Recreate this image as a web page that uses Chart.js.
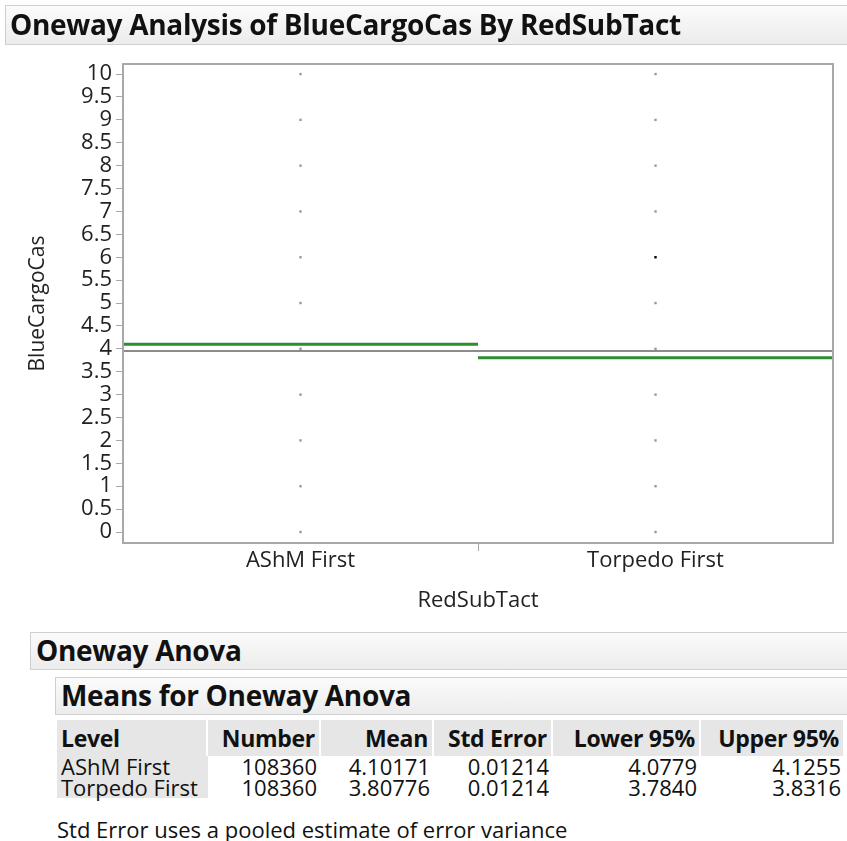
<!DOCTYPE html>
<html>
<head>
<meta charset="utf-8">
<script src="https://cdn.jsdelivr.net/npm/chart.js@4.4.1/dist/chart.umd.min.js"></script>
<style>
  body { margin: 0; background: #fff; font-family: "Open Sans", sans-serif; color: #111; }
  #wrap { position: relative; width: 847px; height: 841px; overflow: hidden; }
  #plot { position: absolute; left: 0; top: 0; }
  .bar {
    position: absolute; box-sizing: border-box; border: 1px solid #cfcfcf;
    background: linear-gradient(#fbfbfb, #ececec); font-weight: bold; white-space: nowrap;
    letter-spacing: -0.3px;
  }
  #title { left: 5px; top: 5px; width: 850px; height: 40px; font-size: 28px; line-height: 37px; padding-left: 4px; z-index: 2; }
  #anova { left: 30px; top: 632px; width: 830px; height: 38px; font-size: 28px; line-height: 35px; padding-left: 5px; }
  #means { left: 55px; top: 677px; width: 800px; height: 38px; font-size: 28px; line-height: 35px; padding-left: 5px; }
  table { position: absolute; left: 57px; top: 720px; border-collapse: separate; border-spacing: 0; font-size: 22px; }
  th, td { padding: 0 4px; white-space: nowrap; text-align: right; }
  th { background: #e6e6e6; height: 36px; border-right: 2px solid #fff; font-weight: bold; font-size: 23px; letter-spacing: -0.3px; }
  td { height: 21px; line-height: 21px; }
  td.lvl, th.lvl { text-align: left; }
  td.lvl { background: #e6e6e6; }
  #note { position: absolute; left: 57px; top: 814px; font-size: 22px; }
</style>
</head>
<body>
<div id="wrap">
  <canvas id="plot" width="847" height="620"></canvas>
  <div class="bar" id="title">Oneway Analysis of BlueCargoCas By RedSubTact</div>
  <div class="bar" id="anova">Oneway Anova</div>
  <div class="bar" id="means">Means for Oneway Anova</div>
  <table id="tbl"></table>
  <div id="note">Std Error uses a pooled estimate of error variance</div>
</div>
<script>
// ── Datos ──
const levels = ['AShM First', 'Torpedo First'];
const ashmValues    = [0, 1, 2, 3, 4, 5, 6, 7, 8, 9, 10];
const torpedoValues = [0, 1, 2, 3, 4, 5, 7, 8, 9, 10];
const torpedoMarked = [6];
const groupMeans = [4.10171, 3.80776];
const grandMean  = 3.95474;
const yTicks = [0, 0.5, 1, 1.5, 2, 2.5, 3, 3.5, 4, 4.5, 5, 5.5, 6, 6.5, 7, 7.5, 8, 8.5, 9, 9.5, 10];

const tableHead = ['Level', 'Number', 'Mean', 'Std Error', 'Lower 95%', 'Upper 95%'];
const tableRows = [
    ['AShM First',    '108360', '4.10171', '0.01214', '4.0779', '4.1255'],
    ['Torpedo First', '108360', '3.80776', '0.01214', '3.7840', '3.8316'],
];
const colWidths = [151, 113, 113, 119, 148, 144];

// ── Tabla ──
function renderTable() {
    const tbl = document.getElementById('tbl');
    const head = '<tr>' + tableHead.map((h, i) =>
        `<th class="${i === 0 ? 'lvl' : ''}" style="width:${colWidths[i] - 10}px">${h}</th>`).join('') + '</tr>';
    const body = tableRows.map(r => '<tr>' + r.map((c, i) =>
        `<td class="${i === 0 ? 'lvl' : ''}">${c}</td>`).join('') + '</tr>').join('');
    tbl.innerHTML = head + body;
}

// ── Marco del gráfico ──
const framePlugin = {
    id: 'frame',
    afterDatasetsDraw(chart) {
        const { ctx, chartArea: a } = chart;
        ctx.save();
        ctx.strokeStyle = '#a8a8a8';
        ctx.lineWidth = 2;
        ctx.strokeRect(a.left, a.top, a.right - a.left, a.bottom - a.top);
        ctx.restore();
    }
};

const pointStyle = (color) => ({
    showLine: false, pointStyle: 'rect', pointRadius: 1.7, pointHoverRadius: 1.7,
    pointBackgroundColor: color, pointBorderColor: color, pointBorderWidth: 0,
});
const lineStyle = (color, width) => ({
    showLine: true, borderColor: color, borderWidth: width, pointRadius: 0, fill: false,
});

new Chart(document.getElementById('plot'), {
    type: 'scatter',
    data: {
        datasets: [
            { data: [{ x: 0, y: grandMean }, { x: 2, y: grandMean }], ...lineStyle('#8c8c8c', 2) },
            { data: [{ x: 0, y: groupMeans[0] }, { x: 1, y: groupMeans[0] }], ...lineStyle('#2b8f30', 3) },
            { data: [{ x: 1, y: groupMeans[1] }, { x: 2, y: groupMeans[1] }], ...lineStyle('#2b8f30', 3) },
            { data: ashmValues.map(v => ({ x: 0.5, y: v })), ...pointStyle('#9a9a9a') },
            { data: torpedoValues.map(v => ({ x: 1.5, y: v })), ...pointStyle('#9a9a9a') },
            { data: torpedoMarked.map(v => ({ x: 1.5, y: v })), ...pointStyle('#000000') },
        ]
    },
    options: {
        responsive: false,
        animation: false,
        layout: { padding: { top: 64, right: 14, left: 0, bottom: 0 } },
        plugins: { legend: { display: false }, tooltip: { enabled: false } },
        scales: {
            x: {
                type: 'linear', min: 0, max: 2,
                afterBuildTicks: s => { s.ticks = [{ value: 0.5 }, { value: 1 }, { value: 1.5 }]; },
                afterFit: s => { s.height = 77; },
                border: { display: false },
                grid: {
                    drawOnChartArea: false, tickLength: 8,
                    tickColor: c => (c.tick && c.tick.value === 1 ? '#a8a8a8' : 'rgba(0,0,0,0)'),
                },
                ticks: {
                    autoSkip: false, maxRotation: 0, padding: -3, color: '#222',
                    font: { family: 'Open Sans', size: 22 },
                    callback: v => (v === 0.5 ? levels[0] : v === 1.5 ? levels[1] : ''),
                },
                title: {
                    display: true, text: 'RedSubTact', color: '#222',
                    font: { family: 'Open Sans', size: 22 }, padding: { top: 0, bottom: 6 },
                },
            },
            y: {
                min: -0.24, max: 10.22,
                afterBuildTicks: s => { s.ticks = yTicks.map(v => ({ value: v })); },
                afterFit: s => { s.width = 123; },
                border: { display: false },
                grid: { drawOnChartArea: false, tickLength: 7, tickColor: '#a8a8a8' },
                ticks: {
                    autoSkip: false, padding: 4, color: '#222',
                    font: { family: 'Open Sans', size: 22, lineHeight: 1 },
                    callback: v => String(v),
                },
                title: {
                    display: true, text: 'BlueCargoCas', color: '#222',
                    font: { family: 'Open Sans', size: 21 }, padding: { top: 25, bottom: 0 },
                },
            },
        },
    },
    plugins: [framePlugin],
});

renderTable();
</script>
</body>
</html>
